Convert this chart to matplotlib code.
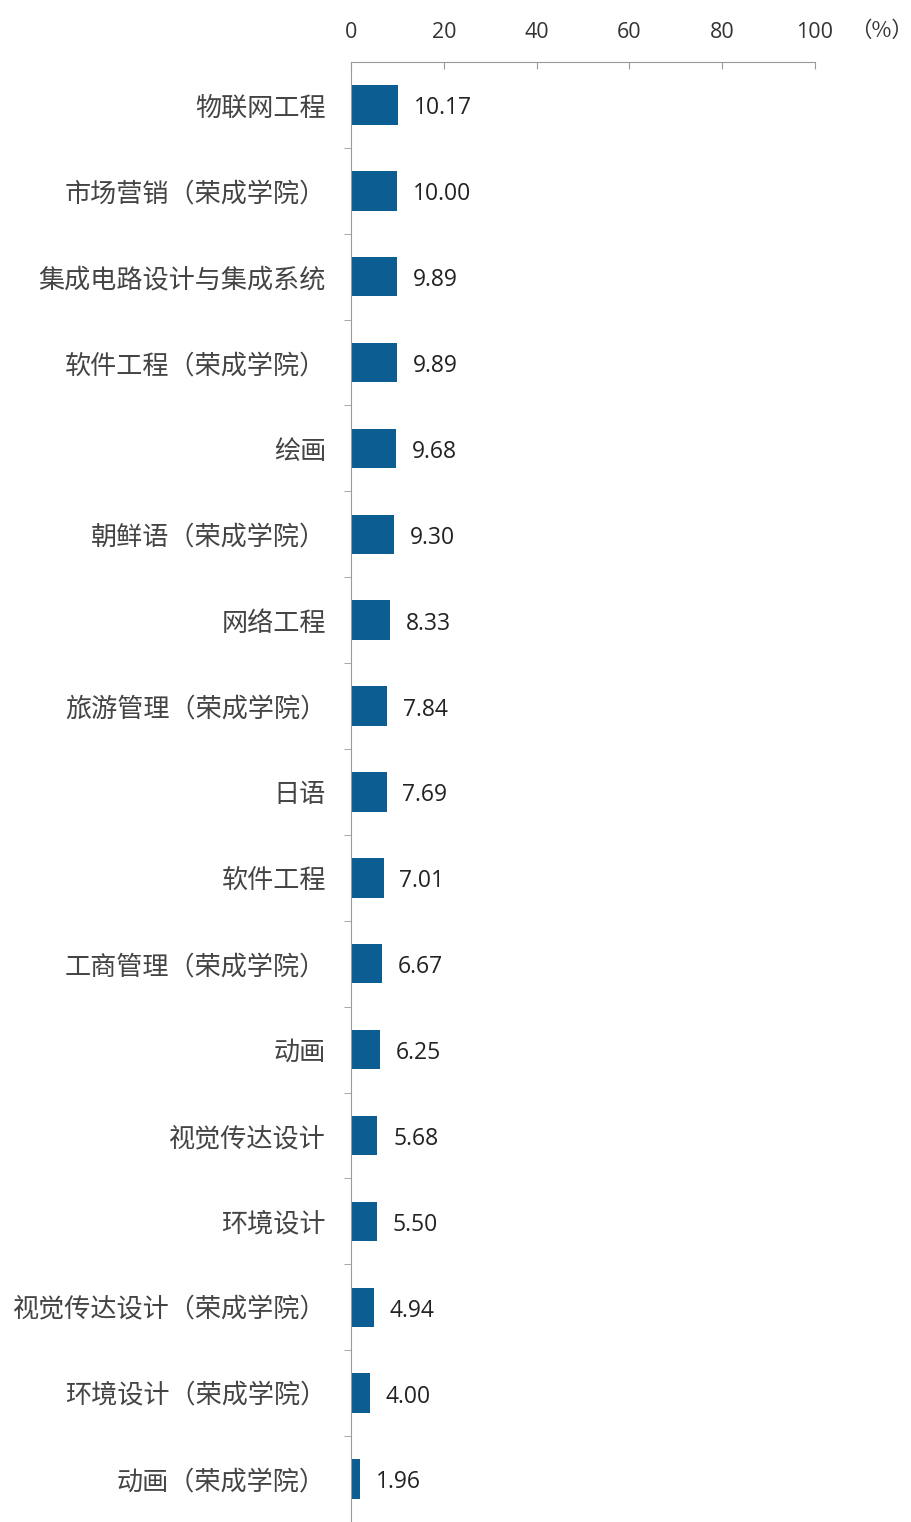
import matplotlib.pyplot as plt

plt.rcParams['font.family'] = ['Noto Sans CJK SC', 'DejaVu Sans']

# 专业及比例
majors = ['物联网工程', '市场营销（荣成学院）', '集成电路设计与集成系统', '软件工程（荣成学院）',
          '绘画', '朝鲜语（荣成学院）', '网络工程', '旅游管理（荣成学院）', '日语', '软件工程',
          '工商管理（荣成学院）', '动画', '视觉传达设计', '环境设计', '视觉传达设计（荣成学院）',
          '环境设计（荣成学院）', '动画（荣成学院）']
values = [10.17, 10.00, 9.89, 9.89, 9.68, 9.30, 8.33, 7.84, 7.69, 7.01,
          6.67, 6.25, 5.68, 5.50, 4.94, 4.00, 1.96]
xticks = [0, 20, 40, 60, 80, 100]

fig = plt.figure(figsize=(9.11, 15.22), dpi=100)
ax = fig.add_axes([0.3853, 0.0, 0.5093, 0.9593])

pos = list(range(len(majors)))
ax.barh(pos, values, height=0.46, color='#0b5d92')
for p, v in zip(pos, values):
    ax.text(v + 3.4, p + 0.04, f'{v:.2f}', va='center', ha='left', fontsize=16.5,
            color='#222222', family=['Open Sans', 'DejaVu Sans'])

ax.set_xlim(0, 100)
ax.set_ylim(len(majors) - 0.5, -0.5)
ax.xaxis.tick_top()
ax.set_xticks(xticks)
ax.set_xticklabels([str(t) for t in xticks], fontsize=15.5, color='#333333',
                   family=['Open Sans', 'DejaVu Sans'])
ax.tick_params(axis='x', direction='in', length=5, color='#999999', pad=14)

ax.set_yticks(pos)
ax.set_yticklabels(majors, fontsize=18.8, color='#444444')
ax.tick_params(axis='y', which='major', length=0, pad=18)
ax.set_yticks([p + 0.5 for p in pos[:-1]], minor=True)
ax.tick_params(axis='y', which='minor', length=5, color='#999999', direction='out')

for s in ['right', 'bottom']:
    ax.spines[s].set_visible(False)
for s in ['top', 'left']:
    ax.spines[s].set_color('#999999')

fig.text(0.968, 0.980, '（%）', ha='center', va='center', fontsize=15.5, color='#333333')

plt.savefig('out.png', dpi=100)
